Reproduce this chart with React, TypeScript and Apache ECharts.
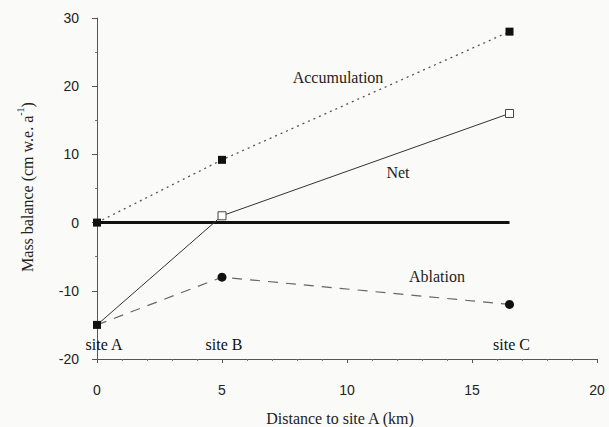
import React, { useEffect, useRef } from 'react';
import * as echarts from 'echarts';

const distanceKm = [0, 5, 16.5];
const siteNames = ['site A', 'site B', 'site C'];
const accumulation = [0, 9.2, 28];
const net = [-15, 1, 16];
const ablation = [-15, -8, -12];
const zeroLine = [0, 0, 0];

const serif = '"Liberation Serif", "Times New Roman", serif';
const sans = '"Liberation Sans", Arial, sans-serif';
const ink = '#222';

export default function App() {
  const ref = useRef<HTMLDivElement>(null);
  useEffect(() => {
    const chart = echarts.init(ref.current!, null, { renderer: 'svg' });
    const pts = (vals: number[]) => distanceKm.map((x, i) => [x, vals[i]]);
    chart.setOption({
      animation: false,
      backgroundColor: '#fafaf8',
      grid: { left: 97, top: 18, width: 500, height: 341, containLabel: false },
      xAxis: {
        type: 'value', min: 0, max: 20, interval: 5,
        axisLine: { onZero: false, lineStyle: { color: '#555', width: 1 } },
        axisTick: { length: 4, lineStyle: { color: '#555' } },
        minorTick: { show: true, splitNumber: 5, length: 2, lineStyle: { color: '#777' } },
        splitLine: { show: false },
        axisLabel: { margin: 24, fontSize: 14, color: ink, fontFamily: sans },
      },
      yAxis: {
        type: 'value', min: -20, max: 30, interval: 10,
        axisLine: { show: true, lineStyle: { color: '#555', width: 1 } },
        axisTick: { show: true, length: 5, lineStyle: { color: '#555' } },
        minorTick: { show: true, splitNumber: 2, length: 2, lineStyle: { color: '#777' } },
        splitLine: { show: false },
        axisLabel: { margin: 18, fontSize: 14, color: ink, fontFamily: sans },
      },
      series: [
        {
          type: 'line', data: [[distanceKm[0], zeroLine[0]], [distanceKm[2], zeroLine[2]]],
          symbol: 'none', lineStyle: { color: '#111', width: 3 }, z: 2,
        },
        {
          type: 'line', data: pts(accumulation), symbol: 'rect', symbolSize: 8,
          itemStyle: { color: '#111' }, lineStyle: { color: '#555', width: 1.3, type: [2, 4] }, z: 3,
        },
        {
          type: 'line',
          data: pts(ablation).map((p, i) => ({
            value: p,
            symbol: i === 0 ? 'none' : 'circle',
            symbolSize: 9,
          })),
          itemStyle: { color: '#111' }, lineStyle: { color: '#666', width: 1.2, type: [10, 8] }, z: 3,
        },
        {
          type: 'line',
          data: pts(net).map((p, i) => ({
            value: p,
            itemStyle: i === 0 ? { color: '#111' } : { color: '#fff', borderColor: '#444', borderWidth: 1 },
          })),
          symbol: 'rect', symbolSize: 8, lineStyle: { color: '#333', width: 1 }, z: 4,
        },
        {
          type: 'scatter',
          data: distanceKm.map((x, i) => ({ value: [x, -20], name: siteNames[i] })),
          symbolSize: 0, silent: true,
          label: {
            show: true, position: 'top', distance: 7, formatter: '{b}',
            fontFamily: serif, fontSize: 16, color: '#111', opacity: 1,
          },
          labelLayout: (params: any) => ({ dx: params.dataIndex === 0 ? 7 : 2 }),
          z: 5,
        },
      ],
      graphic: [
        {
          type: 'text', x: 338, y: 77,
          style: { text: 'Accumulation', font: `16px ${serif}`, fill: ink, textAlign: 'center', textVerticalAlign: 'middle' },
        },
        {
          type: 'text', x: 398, y: 172,
          style: { text: 'Net', font: `16px ${serif}`, fill: ink, textAlign: 'center', textVerticalAlign: 'middle' },
        },
        {
          type: 'text', x: 437, y: 276,
          style: { text: 'Ablation', font: `16px ${serif}`, fill: ink, textAlign: 'center', textVerticalAlign: 'middle' },
        },
        {
          type: 'text', x: 340, y: 418,
          style: { text: 'Distance to site A (km)', font: `16px ${serif}`, fill: ink, textAlign: 'center', textVerticalAlign: 'middle' },
        },
        {
          type: 'text', x: 25, y: 187, rotation: Math.PI / 2,
          style: {
            text: '{t|Mass balance (cm w.e. a}{s|-1}{t|)}',
            fill: ink, textAlign: 'center', textVerticalAlign: 'middle',
            rich: {
              t: { fontFamily: serif, fontSize: 16, lineHeight: 20, color: ink, verticalAlign: 'bottom' },
              s: { fontFamily: serif, fontSize: 10, lineHeight: 20, color: ink, verticalAlign: 'top' },
            },
          },
        },
      ],
    });
    return () => chart.dispose();
  }, []);
  return (
    <div
      ref={ref}
      style={{ position: 'fixed', left: 0, top: 0, width: 609, height: 427 }}
    />
  );
}
